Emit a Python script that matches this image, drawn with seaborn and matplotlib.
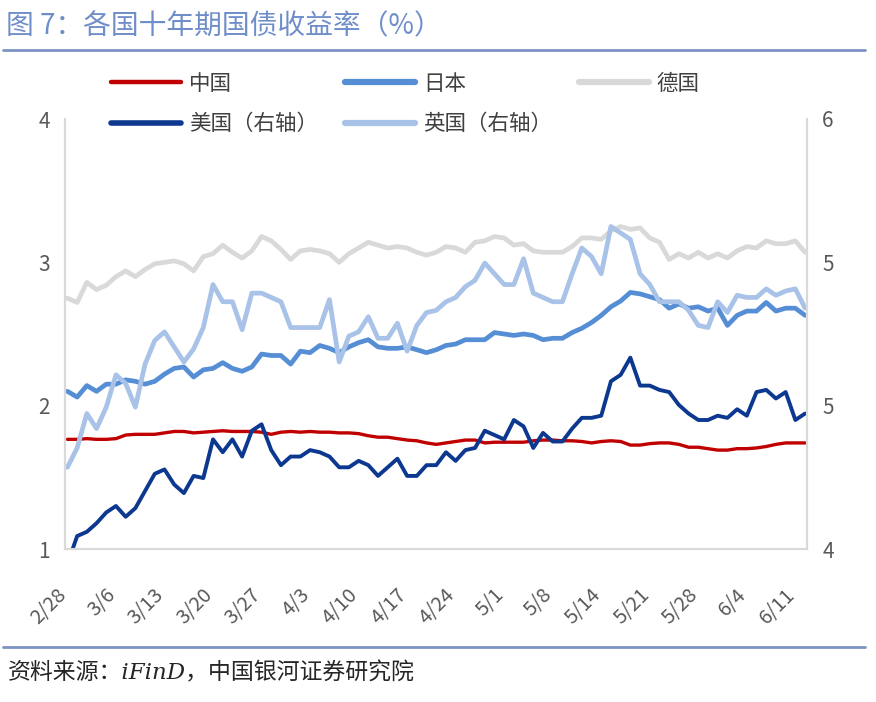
import numpy as np
import matplotlib
matplotlib.use("Agg")
import matplotlib.pyplot as plt
from matplotlib.lines import Line2D
from matplotlib.ticker import FormatStrFormatter
from matplotlib.transforms import ScaledTranslation
import seaborn as sns

# tick labels (every 5th trading day)
date_labels = ['2/28', '3/6', '3/13', '3/20', '3/27', '4/3', '4/10', '4/17',
               '4/24', '5/1', '5/8', '5/14', '5/21', '5/28', '6/4', '6/11']

# left axis series (%)
china = [1.765, 1.765, 1.77, 1.765, 1.765, 1.77, 1.795, 1.80, 1.80, 1.80, 1.81, 1.82, 1.82,
         1.81, 1.815, 1.82, 1.825, 1.82, 1.82, 1.82, 1.815, 1.80, 1.815, 1.82, 1.815,
         1.82, 1.815, 1.815, 1.81, 1.81, 1.805, 1.79, 1.78, 1.78, 1.77, 1.76, 1.755, 1.74,
         1.73, 1.74, 1.75, 1.76, 1.76, 1.74, 1.745, 1.745, 1.745, 1.745, 1.755, 1.76,
         1.76, 1.755, 1.755, 1.75, 1.74, 1.75, 1.755, 1.75, 1.725, 1.725, 1.735, 1.74, 1.74,
         1.73, 1.71, 1.71, 1.70, 1.69, 1.69, 1.70, 1.70, 1.705, 1.715, 1.73, 1.74, 1.74, 1.74]
japan = [2.10, 2.06, 2.14, 2.10, 2.15, 2.15, 2.18, 2.17, 2.15, 2.17, 2.22, 2.26, 2.27,
         2.20, 2.25, 2.26, 2.30, 2.26, 2.24, 2.27, 2.36, 2.35, 2.35, 2.29, 2.38,
         2.37, 2.42, 2.40, 2.37, 2.41, 2.44, 2.46, 2.41, 2.40, 2.40, 2.41, 2.39, 2.37,
         2.39, 2.42, 2.43, 2.46, 2.46, 2.46, 2.51, 2.50, 2.49, 2.50, 2.49, 2.46,
         2.47, 2.47, 2.51, 2.54, 2.58, 2.63, 2.69, 2.73, 2.79, 2.78, 2.76, 2.74, 2.68,
         2.71, 2.68, 2.69, 2.66, 2.68, 2.56, 2.63, 2.66, 2.66, 2.72, 2.66, 2.68, 2.68, 2.63]
germany = [2.75, 2.72, 2.86, 2.81, 2.84, 2.90, 2.94, 2.90, 2.95, 2.99, 3.00, 3.01, 2.99,
           2.94, 3.04, 3.06, 3.12, 3.07, 3.03, 3.08, 3.18, 3.15, 3.09, 3.02, 3.08,
           3.09, 3.08, 3.06, 3.00, 3.06, 3.10, 3.14, 3.12, 3.10, 3.11, 3.10, 3.07, 3.05,
           3.07, 3.11, 3.10, 3.07, 3.14, 3.15, 3.18, 3.17, 3.12, 3.13, 3.08, 3.07,
           3.07, 3.07, 3.11, 3.17, 3.17, 3.16, 3.22, 3.25, 3.23, 3.24, 3.17, 3.14, 3.02,
           3.06, 3.03, 3.07, 3.03, 3.06, 3.03, 3.08, 3.11, 3.10, 3.15, 3.13, 3.13, 3.15, 3.07]

# right axis series (%)
usa = [3.93, 4.06, 4.08, 4.12, 4.17, 4.20, 4.15, 4.19, 4.27, 4.35, 4.37, 4.30, 4.26,
       4.34, 4.33, 4.51, 4.45, 4.51, 4.43, 4.55, 4.58, 4.46, 4.39, 4.43, 4.43,
       4.46, 4.45, 4.43, 4.38, 4.38, 4.41, 4.39, 4.34, 4.38, 4.42, 4.34, 4.34, 4.39,
       4.39, 4.45, 4.41, 4.46, 4.47, 4.55, 4.53, 4.51, 4.60, 4.57, 4.47, 4.54,
       4.50, 4.50, 4.56, 4.61, 4.61, 4.62, 4.78, 4.81, 4.89, 4.76, 4.76, 4.74, 4.73,
       4.67, 4.63, 4.60, 4.60, 4.62, 4.61, 4.65, 4.62, 4.73, 4.74, 4.70, 4.73, 4.60, 4.63]
uk = [4.38, 4.47, 4.63, 4.56, 4.66, 4.81, 4.77, 4.66, 4.86, 4.97, 5.01, 4.94, 4.87,
      4.93, 5.03, 5.23, 5.15, 5.15, 5.02, 5.19, 5.19, 5.17, 5.15, 5.03, 5.03,
      5.03, 5.03, 5.16, 4.87, 4.99, 5.01, 5.08, 4.98, 4.98, 5.05, 4.92, 5.04, 5.10,
      5.11, 5.15, 5.17, 5.22, 5.25, 5.33, 5.28, 5.23, 5.23, 5.35, 5.19, 5.17,
      5.15, 5.15, 5.28, 5.40, 5.36, 5.28, 5.50, 5.47, 5.44, 5.28, 5.23, 5.15, 5.15,
      5.15, 5.11, 5.04, 5.03, 5.15, 5.10, 5.18, 5.17, 5.17, 5.21, 5.18, 5.20, 5.21, 5.12]

c_china, c_japan, c_germany = '#c00000', '#558ed5', '#d9d9d9'
c_usa, c_uk = '#0c3890', '#a9c2e8'

sns.set_style('white')
plt.rcParams['font.family'] = ['Noto Sans CJK SC', 'DejaVu Sans']

idx = np.arange(len(china))
W, H = 876, 702
fig = plt.figure(figsize=(W / 100, H / 100), dpi=100)
ax = fig.add_axes([65 / W, 1 - 549 / H, (807 - 65) / W, (549 - 119) / H])

sns.lineplot(x=idx, y=germany, ax=ax, color=c_germany, lw=3.4)
sns.lineplot(x=idx, y=japan, ax=ax, color=c_japan, lw=3.4)
sns.lineplot(x=idx, y=china, ax=ax, color=c_china, lw=2.4)
ax.set_ylim(1, 4)
ax.set_yticks([1, 2, 3, 4])
ax.set_xlim(-0.25, len(idx) - 0.8)
ax.set_xticks(idx[::5])
ax.set_xticklabels(date_labels, rotation=45, ha='right', va='top', rotation_mode='anchor')

ax2 = ax.twinx()
sns.lineplot(x=idx, y=usa, ax=ax2, color=c_usa, lw=2.8)
sns.lineplot(x=idx, y=uk, ax=ax2, color=c_uk, lw=3.4)
ax2.set_ylim(4, 6)
ax2.set_yticks([4, 4 + 2 / 3, 4 + 4 / 3, 6])
ax2.yaxis.set_major_formatter(FormatStrFormatter('%.0f'))

for a in (ax, ax2):
    a.spines['top'].set_visible(False)
    for s in ('left', 'right', 'bottom'):
        a.spines[s].set_color('#d9d9d9')
        a.spines[s].set_linewidth(1.5)
    a.tick_params(length=0, labelsize=15, labelcolor='#595959')
    a.set_xlabel('')
    a.set_ylabel('')
    a.grid(False)
ax.tick_params(axis='y', pad=11)
ax.tick_params(axis='x', pad=22, labelsize=14.5)
ax2.tick_params(axis='y', pad=11)

# nudge the rotated date labels left/down like the original
shift = ScaledTranslation(-11 / 100, -5 / 100, fig.dpi_scale_trans)
for lab in ax.get_xticklabels():
    lab.set_transform(lab.get_transform() + shift)

handles = [Line2D([], [], color=c_china, lw=3.2), Line2D([], [], color=c_usa, lw=4),
           Line2D([], [], color=c_japan, lw=4.5), Line2D([], [], color=c_uk, lw=4.5),
           Line2D([], [], color=c_germany, lw=4.5)]
labels = ['中国', '美国（右轴）', '日本', '英国（右轴）', '德国']
leg = fig.legend(handles, labels, ncol=3, loc='upper left', bbox_to_anchor=(111 / W, 1 - 73 / H),
                 frameon=False, fontsize=15.5, handlelength=3.25, handletextpad=0.37,
                 columnspacing=1.25, labelspacing=0.85, borderpad=0, borderaxespad=0)
for t in leg.get_texts():
    t.set_color('#404040')

fig.text(6 / W, 1 - 26 / H, '图 7：各国十年期国债收益率（%）', fontsize=20, color='#6f8ec9', va='center')
fig.add_artist(Line2D([3 / W, 865 / W], [1 - 50 / H] * 2, color='#7b93c3', lw=2))
fig.add_artist(Line2D([3 / W, 865 / W], [1 - 647 / H] * 2, color='#7b93c3', lw=2))
fig.text(8 / W, 1 - 673 / H, '资料来源：iFinD，中国银河证券研究院', fontsize=16.5, color='#262626',
         va='center', style='italic', family=['DejaVu Serif', 'Noto Sans CJK SC'])

fig.savefig('out.png', dpi=100)
